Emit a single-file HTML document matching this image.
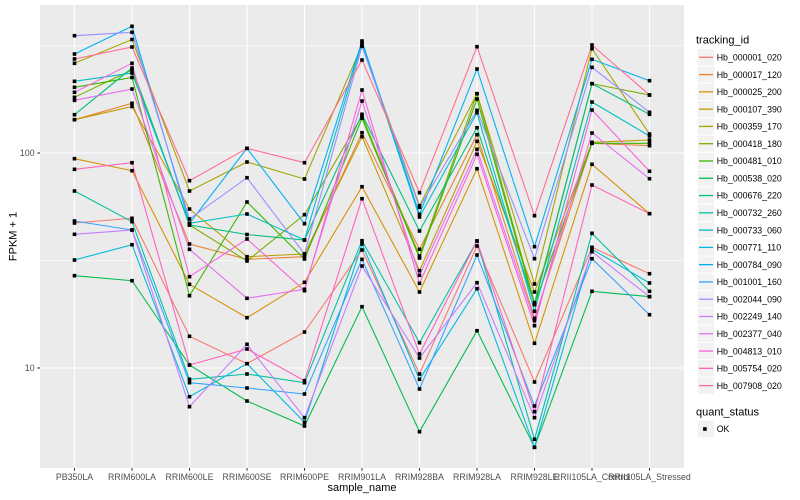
<!DOCTYPE html>
<html><head><meta charset="utf-8"><style>
html,body{margin:0;padding:0;background:#fff;}
svg{display:block;font-family:"Liberation Sans",Arial,sans-serif;}
</style></head><body>
<svg width="800" height="500" viewBox="0 0 800 500" xmlns="http://www.w3.org/2000/svg">
<defs>
<marker id="m" markerWidth="4" markerHeight="4" refX="2" refY="2" markerUnits="userSpaceOnUse" orient="0"><rect x="0.2" y="0.2" width="3.6" height="3.6" fill="#000"/></marker>
</defs>
<rect x="0" y="0" width="800" height="500" fill="#fff"/>
<!-- panel -->
<rect x="40" y="5" width="644" height="463" fill="#EBEBEB"/>
<g stroke="#fff" fill="none">
<line x1="40" y1="45.5" x2="684" y2="45.5" stroke-width="0.55"/>
<line x1="40" y1="260.5" x2="684" y2="260.5" stroke-width="0.55"/>
<line x1="40" y1="153" x2="684" y2="153" stroke-width="1.1"/>
<line x1="40" y1="368" x2="684" y2="368" stroke-width="1.1"/>
<g stroke-width="1.1">
<line x1="74.5" y1="5" x2="74.5" y2="468"/><line x1="132" y1="5" x2="132" y2="468"/><line x1="189.5" y1="5" x2="189.5" y2="468"/><line x1="247" y1="5" x2="247" y2="468"/><line x1="304.5" y1="5" x2="304.5" y2="468"/><line x1="362" y1="5" x2="362" y2="468"/><line x1="419.5" y1="5" x2="419.5" y2="468"/><line x1="477" y1="5" x2="477" y2="468"/><line x1="534.5" y1="5" x2="534.5" y2="468"/><line x1="592" y1="5" x2="592" y2="468"/><line x1="649.5" y1="5" x2="649.5" y2="468"/>
</g></g>
<!-- series lines -->
<g fill="none" stroke-width="1.07">
<polyline stroke="#F8766D" points="74.5,223 132,218.3 189.5,336.3 247,363.7 304.5,332 362,250 419.5,374 477,246 534.5,382 592,247.3 649.5,273.7"/>
<polyline stroke="#EA8331" points="74.5,119.7 132,103.3 189.5,244 247,259.3 304.5,256.7 362,132.7 419.5,249.3 477,134.7 534.5,318.3 592,143.3 649.5,145.7"/>
<polyline stroke="#D89000" points="74.5,158.7 132,170.7 189.5,284.3 247,317.7 304.5,282.3 362,186.7 419.5,292 477,168.7 534.5,343.3 592,164.3 649.5,213.7"/>
<polyline stroke="#C09B00" points="74.5,119.7 132,106.5 189.5,209 247,256.7 304.5,254 362,136.7 419.5,270.7 477,141.3 534.5,292 592,142.3 649.5,140"/>
<polyline stroke="#A3A500" points="74.5,63.3 132,39.5 189.5,191 247,162 304.5,179 362,45 419.5,205.7 477,93.7 534.5,284 592,48.7 649.5,134"/>
<polyline stroke="#7CAE00" points="74.5,97.3 132,70 189.5,225 247,261 304.5,214.7 362,116 419.5,256 477,93.7 534.5,302.7 592,83.7 649.5,95"/>
<polyline stroke="#39B600" points="74.5,87.3 132,77.5 189.5,295.7 247,202 304.5,259 362,118.3 419.5,258 477,99 534.5,304.7 592,143.3 649.5,143.3"/>
<polyline stroke="#00BB4E" points="74.5,275.7 132,280.7 189.5,365 247,401 304.5,426 362,306.7 419.5,431.7 477,330.7 534.5,447.3 592,291.3 649.5,296.7"/>
<polyline stroke="#00BF7D" points="74.5,114.7 132,68 189.5,225 247,234.5 304.5,240 362,114.3 419.5,231 477,127.7 534.5,304.7 592,83.7 649.5,114.3"/>
<polyline stroke="#00C1A3" points="74.5,191 132,221.7 189.5,379.3 247,374 304.5,382.7 362,240.7 419.5,342.7 477,241 534.5,439.3 592,233.3 649.5,291.3"/>
<polyline stroke="#00BFC4" points="74.5,81.3 132,73 189.5,223.3 247,214 304.5,240 362,42.7 419.5,217 477,112.7 534.5,311.3 592,102 649.5,136"/>
<polyline stroke="#00BAE0" points="74.5,260 132,244.7 189.5,396.7 247,363.7 304.5,422.3 362,244 419.5,379.3 477,288.7 534.5,447.3 592,249.3 649.5,283"/>
<polyline stroke="#00B0F6" points="74.5,54 132,26.3 189.5,223.3 247,148.3 304.5,223.7 362,41 419.5,214.3 477,69 534.5,246.7 592,59.3 649.5,80.7"/>
<polyline stroke="#35A2FF" points="74.5,221 132,230 189.5,382.7 247,388 304.5,394 362,259.3 419.5,389 477,255 534.5,406 592,258.7 649.5,314.7"/>
<polyline stroke="#9590FF" points="74.5,35.7 132,32.3 189.5,219 247,177.7 304.5,254 362,46.3 419.5,207.3 477,110.3 534.5,258.7 592,67.3 649.5,112.3"/>
<polyline stroke="#C77CFF" points="74.5,234.3 132,230 189.5,406.7 247,344.3 304.5,417.7 362,266 419.5,358 477,282.7 534.5,417.7 592,251.7 649.5,296.7"/>
<polyline stroke="#E76BF3" points="74.5,100.3 132,89 189.5,249.3 247,298.3 304.5,289.3 362,101 419.5,275.3 477,149.3 534.5,320.7 592,133 649.5,178.7"/>
<polyline stroke="#FA62DB" points="74.5,92.3 132,63.3 189.5,276.7 247,239 304.5,290.7 362,90 419.5,283.3 477,154.3 534.5,325.7 592,110 649.5,171.3"/>
<polyline stroke="#FF62BC" points="74.5,169.3 132,162.7 189.5,365 247,349 304.5,380.7 362,198.7 419.5,354 477,241 534.5,411.7 592,185 649.5,213.7"/>
<polyline stroke="#FF6C91" points="74.5,59 132,47 189.5,180.7 247,148.3 304.5,162.7 362,60 419.5,192.7 477,46.7 534.5,215.7 592,45 649.5,95"/>
</g>
<!-- points -->
<g fill="none" stroke="none" marker-start="url(#m)" marker-mid="url(#m)" marker-end="url(#m)">
<polyline points="74.5,223 132,218.3 189.5,336.3 247,363.7 304.5,332 362,250 419.5,374 477,246 534.5,382 592,247.3 649.5,273.7"/>
<polyline points="74.5,119.7 132,103.3 189.5,244 247,259.3 304.5,256.7 362,132.7 419.5,249.3 477,134.7 534.5,318.3 592,143.3 649.5,145.7"/>
<polyline points="74.5,158.7 132,170.7 189.5,284.3 247,317.7 304.5,282.3 362,186.7 419.5,292 477,168.7 534.5,343.3 592,164.3 649.5,213.7"/>
<polyline points="74.5,119.7 132,106.5 189.5,209 247,256.7 304.5,254 362,136.7 419.5,270.7 477,141.3 534.5,292 592,142.3 649.5,140"/>
<polyline points="74.5,63.3 132,39.5 189.5,191 247,162 304.5,179 362,45 419.5,205.7 477,93.7 534.5,284 592,48.7 649.5,134"/>
<polyline points="74.5,97.3 132,70 189.5,225 247,261 304.5,214.7 362,116 419.5,256 477,93.7 534.5,302.7 592,83.7 649.5,95"/>
<polyline points="74.5,87.3 132,77.5 189.5,295.7 247,202 304.5,259 362,118.3 419.5,258 477,99 534.5,304.7 592,143.3 649.5,143.3"/>
<polyline points="74.5,275.7 132,280.7 189.5,365 247,401 304.5,426 362,306.7 419.5,431.7 477,330.7 534.5,447.3 592,291.3 649.5,296.7"/>
<polyline points="74.5,114.7 132,68 189.5,225 247,234.5 304.5,240 362,114.3 419.5,231 477,127.7 534.5,304.7 592,83.7 649.5,114.3"/>
<polyline points="74.5,191 132,221.7 189.5,379.3 247,374 304.5,382.7 362,240.7 419.5,342.7 477,241 534.5,439.3 592,233.3 649.5,291.3"/>
<polyline points="74.5,81.3 132,73 189.5,223.3 247,214 304.5,240 362,42.7 419.5,217 477,112.7 534.5,311.3 592,102 649.5,136"/>
<polyline points="74.5,260 132,244.7 189.5,396.7 247,363.7 304.5,422.3 362,244 419.5,379.3 477,288.7 534.5,447.3 592,249.3 649.5,283"/>
<polyline points="74.5,54 132,26.3 189.5,223.3 247,148.3 304.5,223.7 362,41 419.5,214.3 477,69 534.5,246.7 592,59.3 649.5,80.7"/>
<polyline points="74.5,221 132,230 189.5,382.7 247,388 304.5,394 362,259.3 419.5,389 477,255 534.5,406 592,258.7 649.5,314.7"/>
<polyline points="74.5,35.7 132,32.3 189.5,219 247,177.7 304.5,254 362,46.3 419.5,207.3 477,110.3 534.5,258.7 592,67.3 649.5,112.3"/>
<polyline points="74.5,234.3 132,230 189.5,406.7 247,344.3 304.5,417.7 362,266 419.5,358 477,282.7 534.5,417.7 592,251.7 649.5,296.7"/>
<polyline points="74.5,100.3 132,89 189.5,249.3 247,298.3 304.5,289.3 362,101 419.5,275.3 477,149.3 534.5,320.7 592,133 649.5,178.7"/>
<polyline points="74.5,92.3 132,63.3 189.5,276.7 247,239 304.5,290.7 362,90 419.5,283.3 477,154.3 534.5,325.7 592,110 649.5,171.3"/>
<polyline points="74.5,169.3 132,162.7 189.5,365 247,349 304.5,380.7 362,198.7 419.5,354 477,241 534.5,411.7 592,185 649.5,213.7"/>
<polyline points="74.5,59 132,47 189.5,180.7 247,148.3 304.5,162.7 362,60 419.5,192.7 477,46.7 534.5,215.7 592,45 649.5,95"/>
</g>
<!-- axes ticks -->
<g stroke="#333" stroke-width="1.07">
<line x1="37.3" y1="153" x2="40" y2="153"/><line x1="37.3" y1="368" x2="40" y2="368"/>
<line x1="74.5" y1="468" x2="74.5" y2="470.7"/><line x1="132" y1="468" x2="132" y2="470.7"/><line x1="189.5" y1="468" x2="189.5" y2="470.7"/><line x1="247" y1="468" x2="247" y2="470.7"/><line x1="304.5" y1="468" x2="304.5" y2="470.7"/><line x1="362" y1="468" x2="362" y2="470.7"/><line x1="419.5" y1="468" x2="419.5" y2="470.7"/><line x1="477" y1="468" x2="477" y2="470.7"/><line x1="534.5" y1="468" x2="534.5" y2="470.7"/><line x1="592" y1="468" x2="592" y2="470.7"/><line x1="649.5" y1="468" x2="649.5" y2="470.7"/>
</g>
<g font-size="8.8" fill="#4D4D4D">
<text x="34.6" y="156.1" text-anchor="end">100</text>
<text x="34.6" y="371.1" text-anchor="end">10</text>
</g>
<g font-size="8.8" fill="#4D4D4D" text-anchor="middle">
<text x="74.5" y="480">PB350LA</text>
<text x="132" y="480">RRIM600LA</text>
<text x="189.5" y="480">RRIM600LE</text>
<text x="247" y="480">RRIM600SE</text>
<text x="304.5" y="480">RRIM600PE</text>
<text x="362" y="480">RRIM901LA</text>
<text x="419.5" y="480">RRIM928BA</text>
<text x="477" y="480">RRIM928LA</text>
<text x="534.5" y="480">RRIM928LE</text>
<text x="592" y="480">RRII105LA_Control</text>
<text x="649.5" y="480">RRII105LA_Stressed</text>
</g>
<text x="362" y="491" font-size="11" text-anchor="middle" fill="#000">sample_name</text>
<text transform="translate(16.5,236.5) rotate(-90)" font-size="11" text-anchor="middle" fill="#000">FPKM + 1</text>
<!-- legend -->
<text x="696" y="43.5" font-size="11" fill="#000">tracking_id</text>
<g fill="#F2F2F2" stroke="#fff" stroke-width="1">
<rect x="697.3" y="48.66" width="17.28" height="17.28"/><rect x="697.3" y="65.94" width="17.28" height="17.28"/><rect x="697.3" y="83.22" width="17.28" height="17.28"/><rect x="697.3" y="100.5" width="17.28" height="17.28"/><rect x="697.3" y="117.78" width="17.28" height="17.28"/><rect x="697.3" y="135.06" width="17.28" height="17.28"/><rect x="697.3" y="152.34" width="17.28" height="17.28"/><rect x="697.3" y="169.62" width="17.28" height="17.28"/><rect x="697.3" y="186.9" width="17.28" height="17.28"/><rect x="697.3" y="204.18" width="17.28" height="17.28"/><rect x="697.3" y="221.46" width="17.28" height="17.28"/><rect x="697.3" y="238.74" width="17.28" height="17.28"/><rect x="697.3" y="256.02" width="17.28" height="17.28"/><rect x="697.3" y="273.3" width="17.28" height="17.28"/><rect x="697.3" y="290.58" width="17.28" height="17.28"/><rect x="697.3" y="307.86" width="17.28" height="17.28"/><rect x="697.3" y="325.14" width="17.28" height="17.28"/><rect x="697.3" y="342.42" width="17.28" height="17.28"/><rect x="697.3" y="359.7" width="17.28" height="17.28"/><rect x="697.3" y="376.98" width="17.28" height="17.28"/>
<rect x="697.3" y="420.4" width="17.28" height="17.28"/>
</g>
<g stroke-width="1.3">
<line x1="699" x2="713" y1="57.3" y2="57.3" stroke="#F8766D"/>
<line x1="699" x2="713" y1="74.58" y2="74.58" stroke="#EA8331"/>
<line x1="699" x2="713" y1="91.86" y2="91.86" stroke="#D89000"/>
<line x1="699" x2="713" y1="109.14" y2="109.14" stroke="#C09B00"/>
<line x1="699" x2="713" y1="126.42" y2="126.42" stroke="#A3A500"/>
<line x1="699" x2="713" y1="143.7" y2="143.7" stroke="#7CAE00"/>
<line x1="699" x2="713" y1="160.98" y2="160.98" stroke="#39B600"/>
<line x1="699" x2="713" y1="178.26" y2="178.26" stroke="#00BB4E"/>
<line x1="699" x2="713" y1="195.54" y2="195.54" stroke="#00BF7D"/>
<line x1="699" x2="713" y1="212.82" y2="212.82" stroke="#00C1A3"/>
<line x1="699" x2="713" y1="230.1" y2="230.1" stroke="#00BFC4"/>
<line x1="699" x2="713" y1="247.38" y2="247.38" stroke="#00BAE0"/>
<line x1="699" x2="713" y1="264.66" y2="264.66" stroke="#00B0F6"/>
<line x1="699" x2="713" y1="281.94" y2="281.94" stroke="#35A2FF"/>
<line x1="699" x2="713" y1="299.22" y2="299.22" stroke="#9590FF"/>
<line x1="699" x2="713" y1="316.5" y2="316.5" stroke="#C77CFF"/>
<line x1="699" x2="713" y1="333.78" y2="333.78" stroke="#E76BF3"/>
<line x1="699" x2="713" y1="351.06" y2="351.06" stroke="#FA62DB"/>
<line x1="699" x2="713" y1="368.34" y2="368.34" stroke="#FF62BC"/>
<line x1="699" x2="713" y1="385.62" y2="385.62" stroke="#FF6C91"/>
</g>
<g font-size="8.8" fill="#000">
<text x="716.7" y="60.5">Hb_000001_020</text>
<text x="716.7" y="77.78">Hb_000017_120</text>
<text x="716.7" y="95.06">Hb_000025_200</text>
<text x="716.7" y="112.34">Hb_000107_390</text>
<text x="716.7" y="129.62">Hb_000359_170</text>
<text x="716.7" y="146.9">Hb_000418_180</text>
<text x="716.7" y="164.18">Hb_000481_010</text>
<text x="716.7" y="181.46">Hb_000538_020</text>
<text x="716.7" y="198.74">Hb_000676_220</text>
<text x="716.7" y="216.02">Hb_000732_260</text>
<text x="716.7" y="233.3">Hb_000733_060</text>
<text x="716.7" y="250.58">Hb_000771_110</text>
<text x="716.7" y="267.86">Hb_000784_090</text>
<text x="716.7" y="285.14">Hb_001001_160</text>
<text x="716.7" y="302.42">Hb_002044_090</text>
<text x="716.7" y="319.7">Hb_002249_140</text>
<text x="716.7" y="336.98">Hb_002377_040</text>
<text x="716.7" y="354.26">Hb_004813_010</text>
<text x="716.7" y="371.54">Hb_005754_020</text>
<text x="716.7" y="388.82">Hb_007908_020</text>
</g>
<text x="696" y="415.5" font-size="11" fill="#000">quant_status</text>
<rect x="703.1" y="427.2" width="3.6" height="3.6" fill="#000"/>
<text x="716.7" y="432.2" font-size="8.8" fill="#000">OK</text>
</svg>
</body></html>
